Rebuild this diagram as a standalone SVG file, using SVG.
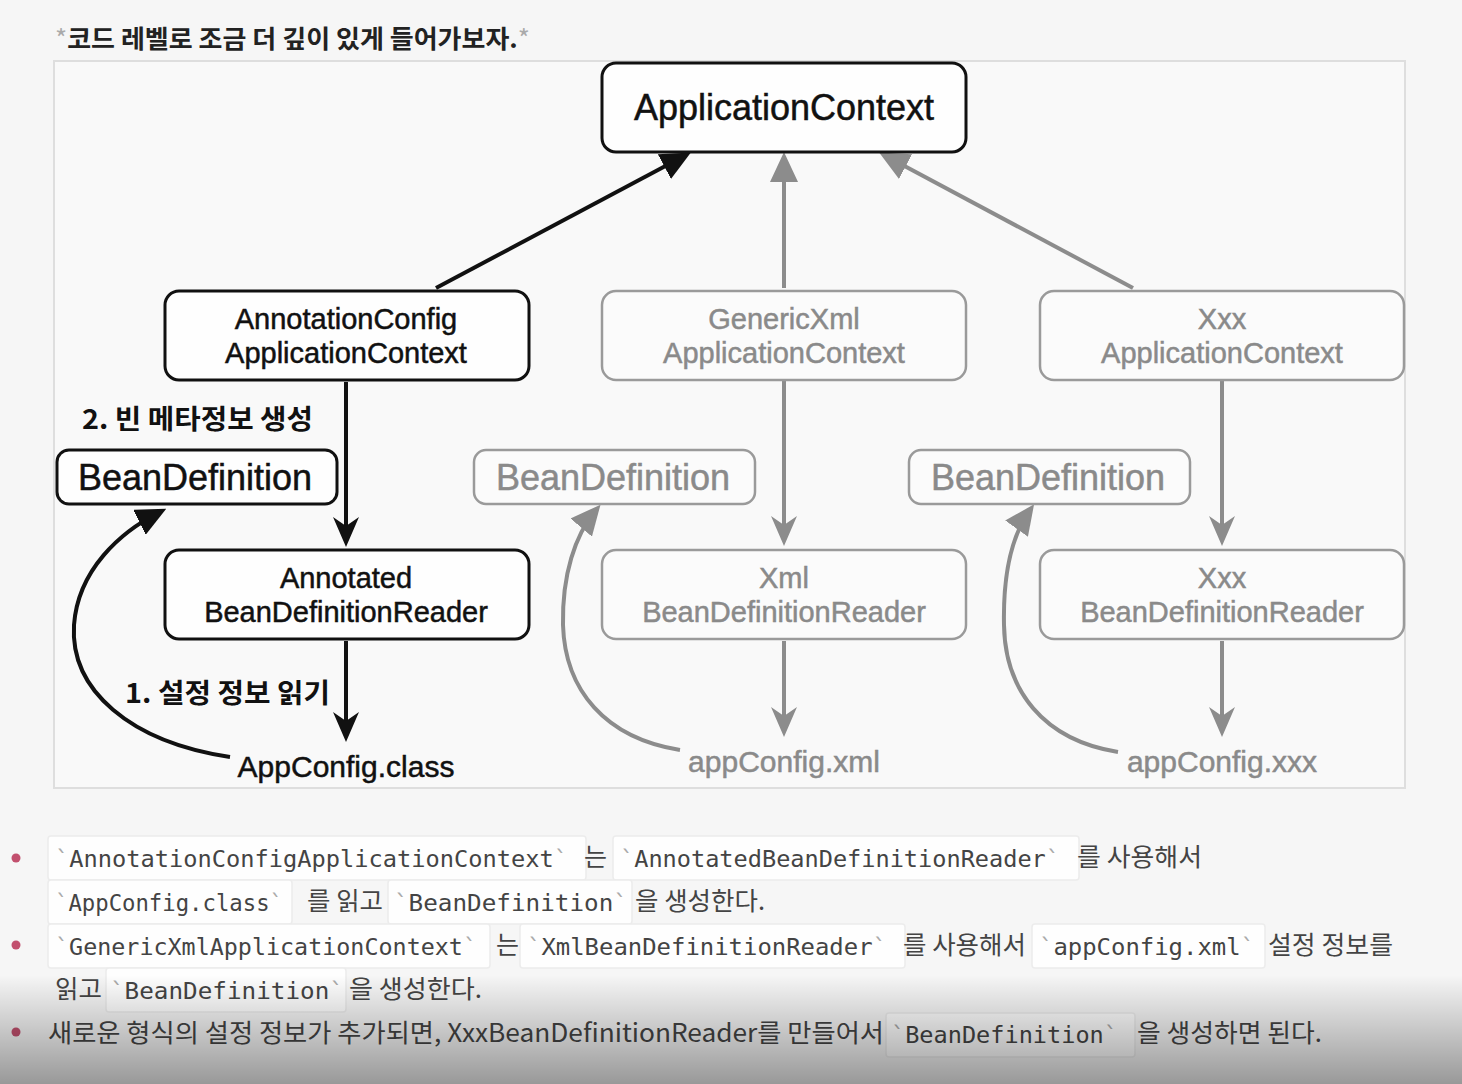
<svg xmlns="http://www.w3.org/2000/svg" width="1462" height="1084" viewBox="0 0 1462 1084">
<style>
.node{fill:#fefefe;stroke:#111;stroke-width:3}
.gnode{fill:#fbfbfb;stroke:#9a9a9a;stroke-width:2.5}
.lbl{font-family:"Liberation Sans",Arial,sans-serif;fill:#111;stroke:#111;stroke-width:0.5;text-anchor:middle}
.glbl{font-family:"Liberation Sans",Arial,sans-serif;fill:#8a8a8a;stroke:#8a8a8a;stroke-width:0.5;text-anchor:middle}
.kr{font-family:"Noto Sans CJK KR","Noto Sans",sans-serif}
.conB{stroke:#111;stroke-width:4;fill:none}
.conG{stroke:#8c8c8c;stroke-width:4;fill:none}
.code{font-family:"DejaVu Sans Mono","Liberation Mono",monospace;fill:#444;font-size:23px}
.tick{fill:#aaa}
.body{font-family:"Noto Sans CJK KR","Noto Sans",sans-serif;fill:#444;font-size:25px}
.cbox{fill:#fefefe;stroke:#ececec;stroke-width:1.5}
.bullet{fill:#c2506e}
</style>
<defs>
<marker id="triB" viewBox="0 0 30 28" refX="23" refY="14" markerWidth="30" markerHeight="28" markerUnits="userSpaceOnUse" orient="auto"><path d="M0,0 L30,14 L0,28 z" fill="#111"/></marker>
<marker id="triG" viewBox="0 0 30 28" refX="23" refY="14" markerWidth="30" markerHeight="28" markerUnits="userSpaceOnUse" orient="auto"><path d="M0,0 L30,14 L0,28 z" fill="#8c8c8c"/></marker>
<marker id="barbB" viewBox="0 0 30 26" refX="24" refY="13" markerWidth="30" markerHeight="26" markerUnits="userSpaceOnUse" orient="auto"><path d="M0,0 L30,13 L0,26 L9,13 z" fill="#111"/></marker>
<marker id="barbG" viewBox="0 0 30 26" refX="24" refY="13" markerWidth="30" markerHeight="26" markerUnits="userSpaceOnUse" orient="auto"><path d="M0,0 L30,13 L0,26 L9,13 z" fill="#8c8c8c"/></marker>
<linearGradient id="shade" x1="0" y1="0" x2="0" y2="1"><stop offset="0" stop-color="#000" stop-opacity="0"/><stop offset="1" stop-color="#000" stop-opacity="0.38"/></linearGradient>
</defs>
<rect x="0" y="0" width="1462" height="1084" fill="#f6f6f6"/>
<text x="55" y="48" class="kr" font-size="25" font-weight="bold" fill="#222" textLength="475" lengthAdjust="spacingAndGlyphs"><tspan fill="#aaa" font-weight="normal">*</tspan>코드 레벨로 조금 더 깊이 있게 들어가보자.<tspan fill="#aaa" font-weight="normal">*</tspan></text>
<rect x="54" y="61" width="1351" height="727" fill="#f9f9f9" stroke="#dedede" stroke-width="2"/>

<g id="connectors">
<line class="conB" x1="436" y1="288" x2="684.7" y2="155.8" marker-end="url(#triB)"/>
<line class="conG" x1="784" y1="288" x2="784" y2="159" marker-end="url(#triG)"/>
<line class="conG" x1="1133" y1="288" x2="885.3" y2="155.8" marker-end="url(#triG)"/>
<line class="conB" x1="346" y1="382" x2="346" y2="541" marker-end="url(#barbB)"/>
<line class="conB" x1="346" y1="641" x2="346" y2="736" marker-end="url(#barbB)"/>
<line class="conG" x1="784" y1="381" x2="784" y2="540" marker-end="url(#barbG)"/>
<line class="conG" x1="784" y1="641" x2="784" y2="731" marker-end="url(#barbG)"/>
<line class="conG" x1="1222" y1="381" x2="1222" y2="540" marker-end="url(#barbG)"/>
<line class="conG" x1="1222" y1="641" x2="1222" y2="731" marker-end="url(#barbG)"/>
<path class="conB" d="M230,757 C130,742 70,690 74,625 C78,570 120,532 160,512" marker-end="url(#triB)"/>
<path class="conG" d="M680,750 C605,738 565,690 563,625 C562,575 575,535 596,510" marker-end="url(#triG)"/>
<path class="conG" d="M1118,752 C1043,740 1005,690 1004,625 C1003,575 1012,535 1030,510" marker-end="url(#triG)"/>
</g>

<g id="n-appctx"><rect class="node" x="602" y="63" width="364" height="89" rx="14"/><text class="lbl" x="784" y="120" font-size="36">ApplicationContext</text></g>
<g id="n-annoctx"><rect class="node" x="165" y="291" width="364" height="89" rx="14"/><text class="lbl" x="346" y="329" font-size="29">AnnotationConfig</text><text class="lbl" x="346" y="363" font-size="29">ApplicationContext</text></g>
<g id="n-xmlctx"><rect class="gnode" x="602" y="291" width="364" height="89" rx="14"/><text class="glbl" x="784" y="329" font-size="29">GenericXml</text><text class="glbl" x="784" y="363" font-size="29">ApplicationContext</text></g>
<g id="n-xxxctx"><rect class="gnode" x="1040" y="291" width="364" height="89" rx="14"/><text class="glbl" x="1222" y="329" font-size="29">Xxx</text><text class="glbl" x="1222" y="363" font-size="29">ApplicationContext</text></g>
<g id="n-bd1"><rect class="node" x="57" y="450" width="280" height="54" rx="12"/><text class="lbl" x="195" y="490" font-size="36">BeanDefinition</text></g>
<g id="n-bd2"><rect class="gnode" x="474" y="450" width="281" height="54" rx="12"/><text class="glbl" x="613" y="490" font-size="36">BeanDefinition</text></g>
<g id="n-bd3"><rect class="gnode" x="909" y="450" width="281" height="54" rx="12"/><text class="glbl" x="1048" y="490" font-size="36">BeanDefinition</text></g>
<g id="n-annoreader"><rect class="node" x="165" y="550" width="364" height="89" rx="14"/><text class="lbl" x="346" y="588" font-size="29">Annotated</text><text class="lbl" x="346" y="622" font-size="29">BeanDefinitionReader</text></g>
<g id="n-xmlreader"><rect class="gnode" x="602" y="550" width="364" height="89" rx="14"/><text class="glbl" x="784" y="588" font-size="29">Xml</text><text class="glbl" x="784" y="622" font-size="29">BeanDefinitionReader</text></g>
<g id="n-xxxreader"><rect class="gnode" x="1040" y="550" width="364" height="89" rx="14"/><text class="glbl" x="1222" y="588" font-size="29">Xxx</text><text class="glbl" x="1222" y="622" font-size="29">BeanDefinitionReader</text></g>
<g id="n-appconfig"><text class="lbl" x="346" y="777" font-size="30" stroke-width="0.3">AppConfig.class</text></g>
<g id="n-appconfigxml"><text class="glbl" x="784" y="772" font-size="30" stroke-width="0.3">appConfig.xml</text></g>
<g id="n-appconfigxxx"><text class="glbl" x="1222" y="772" font-size="30" stroke-width="0.3">appConfig.xxx</text></g>
<g id="labels">
<text class="kr" x="82" y="429" font-size="27" font-weight="bold" fill="#111" textLength="231" lengthAdjust="spacingAndGlyphs">2. 빈 메타정보 생성</text>
<text class="kr" x="125" y="703" font-size="27" font-weight="bold" fill="#111" textLength="205" lengthAdjust="spacingAndGlyphs">1. 설정 정보 읽기</text>
</g>

<g id="notes">
<circle class="bullet" cx="16" cy="858" r="4.5"/>
<circle class="bullet" cx="16" cy="945" r="4.5"/>
<circle class="bullet" cx="16" cy="1032" r="4.5"/>
<rect class="cbox" x="48" y="836" width="538" height="44" rx="3"/>
<rect class="cbox" x="613" y="836" width="466" height="44" rx="3"/>
<rect class="cbox" x="48" y="880" width="244" height="44" rx="3"/>
<rect class="cbox" x="388" y="880" width="244" height="44" rx="3"/>
<rect class="cbox" x="48" y="924" width="442" height="44" rx="3"/>
<rect class="cbox" x="520" y="924" width="385" height="44" rx="3"/>
<rect class="cbox" x="1032" y="924" width="233" height="44" rx="3"/>
<rect class="cbox" x="106" y="968" width="240" height="44" rx="3"/>
<rect class="cbox" x="886" y="1013" width="249" height="44" rx="3"/>

<text class="code" x="55" y="867" textLength="513" lengthAdjust="spacingAndGlyphs"><tspan class="tick">`</tspan>AnnotationConfigApplicationContext<tspan class="tick">`</tspan></text>
<text class="body" x="584" y="866">는</text>
<text class="code" x="620" y="867" textLength="440" lengthAdjust="spacingAndGlyphs"><tspan class="tick">`</tspan>AnnotatedBeanDefinitionReader<tspan class="tick">`</tspan></text>
<text class="body" x="1077" y="866" textLength="125" lengthAdjust="spacingAndGlyphs">를 사용해서</text>

<text class="code" x="55" y="911" textLength="228" lengthAdjust="spacingAndGlyphs"><tspan class="tick">`</tspan>AppConfig.class<tspan class="tick">`</tspan></text>
<text class="body" x="307" y="910" textLength="76" lengthAdjust="spacingAndGlyphs">를 읽고</text>
<text class="code" x="394" y="911" textLength="234" lengthAdjust="spacingAndGlyphs"><tspan class="tick">`</tspan>BeanDefinition<tspan class="tick">`</tspan></text>
<text class="body" x="635" y="910" textLength="130" lengthAdjust="spacingAndGlyphs">을 생성한다.</text>

<text class="code" x="55" y="955" textLength="422" lengthAdjust="spacingAndGlyphs"><tspan class="tick">`</tspan>GenericXmlApplicationContext<tspan class="tick">`</tspan></text>
<text class="body" x="496" y="954">는</text>
<text class="code" x="527" y="955" textLength="360" lengthAdjust="spacingAndGlyphs"><tspan class="tick">`</tspan>XmlBeanDefinitionReader<tspan class="tick">`</tspan></text>
<text class="body" x="903" y="954" textLength="123" lengthAdjust="spacingAndGlyphs">를 사용해서</text>
<text class="code" x="1039" y="955" textLength="216" lengthAdjust="spacingAndGlyphs"><tspan class="tick">`</tspan>appConfig.xml<tspan class="tick">`</tspan></text>
<text class="body" x="1268" y="954" textLength="125" lengthAdjust="spacingAndGlyphs">설정 정보를</text>

<text class="body" x="55" y="998" textLength="47" lengthAdjust="spacingAndGlyphs">읽고</text>
<text class="code" x="110" y="999" textLength="234" lengthAdjust="spacingAndGlyphs"><tspan class="tick">`</tspan>BeanDefinition<tspan class="tick">`</tspan></text>
<text class="body" x="349" y="998" textLength="133" lengthAdjust="spacingAndGlyphs">을 생성한다.</text>

<text class="body" x="48" y="1042" textLength="836" lengthAdjust="spacingAndGlyphs">새로운 형식의 설정 정보가 추가되면, XxxBeanDefinitionReader를 만들어서</text>
<text class="code" x="891" y="1043" textLength="227" lengthAdjust="spacingAndGlyphs"><tspan class="tick">`</tspan>BeanDefinition<tspan class="tick">`</tspan></text>
<text class="body" x="1137" y="1042" textLength="185" lengthAdjust="spacingAndGlyphs">을 생성하면 된다.</text>
</g>
<rect x="0" y="975" width="1462" height="109" fill="url(#shade)" pointer-events="none"/>
</svg>
